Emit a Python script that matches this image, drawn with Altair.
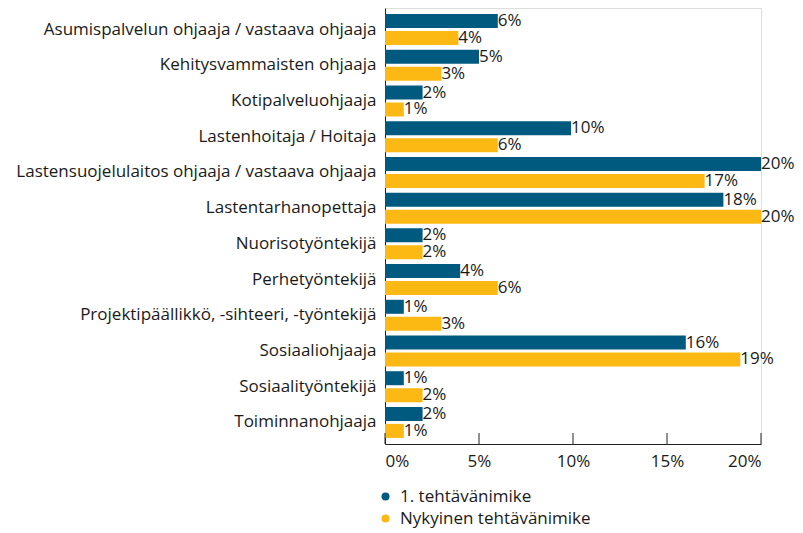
import altair as alt
import pandas as pd

categories = [
    "Asumispalvelun ohjaaja / vastaava ohjaaja",
    "Kehitysvammaisten ohjaaja",
    "Kotipalveluohjaaja",
    "Lastenhoitaja / Hoitaja",
    "Lastensuojelulaitos ohjaaja / vastaava ohjaaja",
    "Lastentarhanopettaja",
    "Nuorisotyöntekijä",
    "Perhetyöntekijä",
    "Projektipäällikkö, -sihteeri, -työntekijä",
    "Sosiaaliohjaaja",
    "Sosiaalityöntekijä",
    "Toiminnanohjaaja",
]
series = ["1. tehtävänimike", "Nykyinen tehtävänimike"]
first_title = [6.0, 5.0, 2.0, 9.9, 20.0, 18.0, 2.0, 4.0, 1.0, 16.0, 1.0, 2.0]
current_title = [3.9, 3.0, 1.0, 6.0, 17.0, 20.0, 2.0, 6.0, 3.0, 18.9, 2.0, 1.0]
x_ticks = [0, 5, 10, 15, 20]
colors = ["#005A80", "#FDB913"]

rows = []
for c, a, b in zip(categories, first_title, current_title):
    rows.append({"cat": c, "series": series[0], "value": a, "label": f"{round(a):.0f}%"})
    rows.append({"cat": c, "series": series[1], "value": b, "label": f"{round(b):.0f}%"})
df = pd.DataFrame(rows)

FONT = "Open Sans"
FS_CAT = 17
FS = 17

y_enc = alt.Y("cat:N", sort=categories, title=None,
              scale=alt.Scale(paddingInner=0.132, paddingOuter=0.17),
              axis=alt.Axis(ticks=False, labelFontSize=FS_CAT, labelFont=FONT,
                            labelColor="#1a1a1a", labelPadding=9,
                            domainColor="#222222", labelLimit=400))
yoff = alt.YOffset("series:N", sort=series,
                   scale=alt.Scale(paddingInner=0.176, paddingOuter=0))
x_enc = alt.X("value:Q", title=None,
              scale=alt.Scale(domain=[0, 20], nice=False),
              axis=alt.Axis(values=x_ticks, labelExpr="datum.value + '%'",
                            grid=False, ticks=False, labelFontSize=FS,
                            labelFont=FONT, labelColor="#1a1a1a",
                            labelPadding=9, domainColor="#222222"))

bars = alt.Chart(df).mark_bar().encode(
    y=y_enc, yOffset=yoff, x=x_enc,
    color=alt.Color("series:N", sort=series,
                    scale=alt.Scale(domain=series, range=colors),
                    legend=alt.Legend(title=None, orient="none", legendX=-8,
                                      legendY=480, symbolType="circle",
                                      symbolSize=64, labelFontSize=FS,
                                      labelFont=FONT, labelColor="#1a1a1a",
                                      rowPadding=4, labelOffset=6,
                                      labelLimit=400,
                                      symbolStrokeWidth=0)),
)

texts = alt.Chart(df).mark_text(align="left", baseline="middle", dx=0,
                                fontSize=FS, font=FONT, color="#1a1a1a").encode(
    y=alt.Y("cat:N", sort=categories), yOffset=alt.YOffset("series:N", sort=series),
    x="value:Q", text="label:N",
)

tick_df = pd.DataFrame({"t": x_ticks})
ticks = alt.Chart(tick_df).mark_rule(color="#222222", strokeWidth=1).encode(
    x="t:Q", y=alt.value(425), y2=alt.value(436),
)

chart = alt.layer(bars, texts, ticks).properties(
    width=376, height=436,
    padding={"left": 377, "top": 0, "right": 34, "bottom": 85},
    autosize=alt.AutoSizeParams(type="none"),
).configure_view(stroke=None).configure(font=FONT)

chart.save("out.html", embed_options={"renderer": "svg", "actions": False})
